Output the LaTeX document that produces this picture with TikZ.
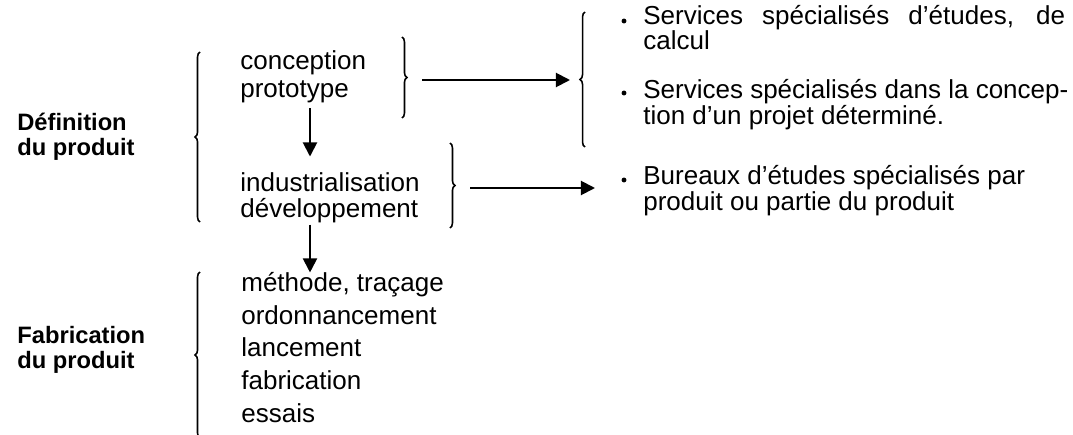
\documentclass[tikz,border=0pt]{standalone}
\usepackage{fontspec}
\setmainfont{Liberation Sans}
\usetikzlibrary{arrows.meta,decorations.pathreplacing}
\tikzset{%
  phase/.style    = {anchor=base west, inner sep=0pt, align=left,%
                     font=\fontsize{13.5}{14.2}\selectfont\bfseries},%
  task/.style     = {anchor=base west, inner sep=0pt, align=left,%
                     font=\fontsize{14.8}{#1}\selectfont},%
  service/.style  = {task=14.5pt},%
  puce/.style     = {circle, fill, inner sep=0pt, minimum size=2.8pt},%
  accolade/.style = {decorate, decoration={brace, amplitude=2.8pt}, line width=0.9pt},%
  flow/.style     = {-{Triangle[length=8pt,width=8pt]}, line width=1.1pt}%
}

\begin{document}
\begin{tikzpicture}[x=0.2mm,y=-0.2mm]
		\useasboundingbox (0,0) rectangle (1073,435);
		% phases (base = last line)
		\node[phase] (def) at (17,155) {Définition\\du produit};
		\node[phase] (fab) at (17,368) {Fabrication\\du produit};
		% tasks
		\node[task=15.9pt] (concept) at (240,97) {conception\\prototype};
		\node[task=14.5pt] (indus) at (240,217) {industrialisation\\développement};
		\node[task=18.5pt] (travaux) at (241,422) {méthode, traçage\\ordonnancement\\lancement\\fabrication\\essais};
		% services
		\node[puce] (bul1) at (624,21) {};
		\node[puce] (bul2) at (624,93) {};
		\node[puce] (bul3) at (624,180) {};
		\node[service] (serv1) at (643,50) {\makebox[240pt][s]{Services spécialisés d’études, de}\\calcul};
		\node[service] (serv2) at (643,124) {Services spécialisés dans la concep-\\tion d’un projet déterminé.};
		\node[service] (serv3) at (643,210) {Bureaux d’études spécialisés par\\produit ou partie du produit};
		% braces
		\draw[accolade] (200,222) -- (200,52);
		\draw[accolade] (200,438) -- (200,272);
		\draw[accolade] (402,37) -- (402,118);
		\draw[accolade] (450,143) -- (450,228);
		\draw[accolade] (585,147) -- (585,12);
		% arrows
		\coordinate (colx) at (310,0);
		\coordinate (s1) at (422,80);
		\coordinate (r1) at (570,80);
		\coordinate (s2) at (470,188);
		\coordinate (b3) at (595,188);
		\draw[flow, shorten <=3pt, shorten >=9pt] (concept.south -| colx) -- (indus.north -| colx);
		\draw[flow, shorten <=1pt] (indus.south -| colx) -- (travaux.north -| colx);
		\draw[flow] (s1) -- (r1);
		\draw[flow] (s2) -- (b3);
\end{tikzpicture}
\end{document}
